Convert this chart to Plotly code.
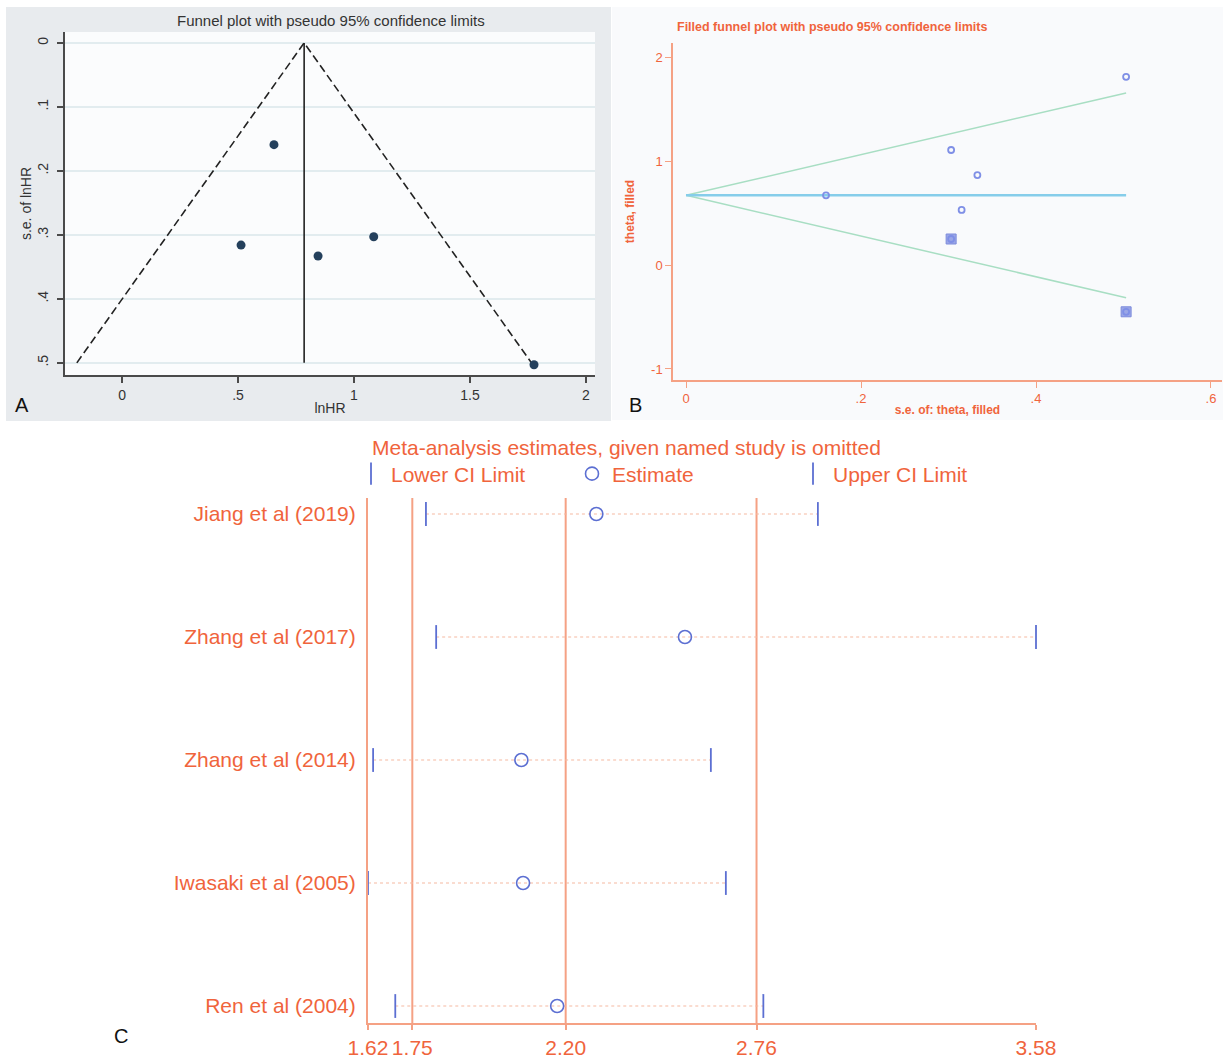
import plotly.graph_objects as go

W, H = 1223, 1059

# ---------------- Panel A data ----------------
a_lnhr = [0.655, 0.513, 0.845, 1.085, 1.776]
a_se = [0.159, 0.316, 0.333, 0.303, 0.503]
a_funnel_x = [-0.195, 0.785, 1.765]
a_funnel_se = [0.5, 0.0, 0.5]
a_pooled = [0.785, 0.785]
a_pooled_se = [0.0, 0.5]
a_xticks = [0, 0.5, 1, 1.5, 2]
a_xticktext = ["0", ".5", "1", "1.5", "2"]
a_yticks = [0, 0.1, 0.2, 0.3, 0.4, 0.5]
a_yticktext = ["0", ".1", ".2", ".3", ".4", ".5"]

# ---------------- Panel B data ----------------
b_se_obs = [0.16, 0.303, 0.333, 0.315, 0.503]
b_theta_obs = [0.67, 1.106, 0.865, 0.53, 1.81]
b_se_fill = [0.303, 0.503]
b_theta_fill = [0.25, -0.45]
b_upper_se = [0.0, 0.503]
b_upper_theta = [0.67, 1.655]
b_lower_se = [0.0, 0.503]
b_lower_theta = [0.67, -0.315]
b_mid_se = [0.0, 0.503]
b_mid_theta = [0.67, 0.67]
b_xticks = [0, 0.2, 0.4, 0.6]
b_xticktext = ["0", ".2", ".4", ".6"]
b_yticks = [-1, 0, 1, 2]
b_yticktext = ["-1", "0", "1", "2"]

# ---------------- Panel C data ----------------
c_studies = ["Jiang et al (2019)", "Zhang et al (2017)", "Zhang et al (2014)",
             "Iwasaki et al (2005)", "Ren et al (2004)"]
c_lower = [1.79, 1.82, 1.635, 1.62, 1.70]
c_est = [2.29, 2.55, 2.07, 2.075, 2.175]
c_upper = [2.94, 3.58, 2.626, 2.67, 2.78]
c_reflines = [1.75, 2.20, 2.76]
c_xticks = [1.62, 1.75, 2.20, 2.76, 3.58]
c_xticktext = ["1.62", "1.75", "2.20", "2.76", "3.58"]

FONT = "Liberation Sans"
ORANGE = "#f0643c"
ORANGE_LINE = "#f5a184"
BLUE = "#5c6fd2"


def px(x):
    return x / W


def py(y):
    return 1 - y / H


fig = go.Figure()

# ---- Panel A traces ----
fig.add_trace(go.Scatter(x=a_funnel_x, y=a_funnel_se, mode="lines",
                         line=dict(color="#222222", width=1.6, dash="8px,4px"),
                         xaxis="x", yaxis="y", showlegend=False, hoverinfo="skip"))
fig.add_trace(go.Scatter(x=a_pooled, y=a_pooled_se, mode="lines",
                         line=dict(color="#222222", width=1.6),
                         xaxis="x", yaxis="y", showlegend=False, hoverinfo="skip"))
fig.add_trace(go.Scatter(x=a_lnhr, y=a_se, mode="markers",
                         marker=dict(color="#24405c", size=9),
                         xaxis="x", yaxis="y", showlegend=False))

# ---- Panel B traces ----
fig.add_trace(go.Scatter(x=b_upper_se, y=b_upper_theta, mode="lines",
                         line=dict(color="#a8dec3", width=1.5),
                         xaxis="x2", yaxis="y2", showlegend=False))
fig.add_trace(go.Scatter(x=b_lower_se, y=b_lower_theta, mode="lines",
                         line=dict(color="#a8dec3", width=1.5),
                         xaxis="x2", yaxis="y2", showlegend=False))
fig.add_trace(go.Scatter(x=b_mid_se, y=b_mid_theta, mode="lines",
                         line=dict(color="#86cdea", width=2.5),
                         xaxis="x2", yaxis="y2", showlegend=False))
fig.add_trace(go.Scatter(x=b_se_fill, y=b_theta_fill, mode="markers",
                         marker=dict(symbol="square", color="#9aa6e6", size=10,
                                     line=dict(color="#7d8bdc", width=1)),
                         xaxis="x2", yaxis="y2", showlegend=False))
fig.add_trace(go.Scatter(x=b_se_obs + b_se_fill, y=b_theta_obs + b_theta_fill, mode="markers",
                         marker=dict(symbol="circle-open", color="#7f8fe6", size=6,
                                     line=dict(width=1.8)),
                         xaxis="x2", yaxis="y2", showlegend=False))

# ---- Panel C traces ----
cx, cy = [], []
for s, lo, up in zip(c_studies, c_lower, c_upper):
    cx += [lo, up, None]
    cy += [s, s, None]
fig.add_trace(go.Scatter(x=cx, y=cy, mode="lines",
                         line=dict(color="#f6b9a2", width=1.2, dash="dot"),
                         xaxis="x3", yaxis="y3", showlegend=False, hoverinfo="skip"))
fig.add_trace(go.Scatter(x=c_lower, y=c_studies, mode="markers", name="Lower CI Limit",
                         marker=dict(symbol="line-ns", size=17, line=dict(color=BLUE, width=1.8)),
                         cliponaxis=False, xaxis="x3", yaxis="y3"))
fig.add_trace(go.Scatter(x=c_est, y=c_studies, mode="markers", name="Estimate",
                         marker=dict(symbol="circle-open", size=13, color=BLUE,
                                     line=dict(width=1.6)),
                         cliponaxis=False, xaxis="x3", yaxis="y3"))
fig.add_trace(go.Scatter(x=c_upper, y=c_studies, mode="markers", name="Upper CI Limit",
                         marker=dict(symbol="line-ns", size=17, line=dict(color=BLUE, width=1.8)),
                         cliponaxis=False, xaxis="x3", yaxis="y3"))

shapes = [
    # panel A grey background
    dict(type="rect", xref="paper", yref="paper", x0=px(6), x1=px(611), y0=py(421), y1=py(7),
         fillcolor="#e8ebee", line=dict(width=0), layer="below"),
    # panel A plot region
    dict(type="rect", xref="x domain", yref="y domain", x0=0, x1=1, y0=0, y1=1,
         fillcolor="#fbfcfd", line=dict(width=0), layer="below"),
    # panel B background
    dict(type="rect", xref="paper", yref="paper", x0=px(612), x1=px(1223), y0=py(420), y1=py(7),
         fillcolor="#f9fafc", line=dict(width=0), layer="below"),
]
for v in c_reflines:
    shapes.append(dict(type="line", xref="x3", yref="y3 domain", x0=v, x1=v, y0=0, y1=1,
                       line=dict(color=ORANGE_LINE, width=2), layer="below"))

annotations = [
    dict(text="Funnel plot with pseudo 95% confidence limits", x=px(331), y=py(20),
         xanchor="center", yanchor="middle",
         xref="paper", yref="paper", showarrow=False, font=dict(family=FONT, size=15, color="#333333")),
    dict(text="A", x=px(22), y=py(405), xanchor="center", yanchor="middle",
         xref="paper", yref="paper", showarrow=False,
         font=dict(family=FONT, size=20, color="#111111")),
    dict(text="<b>Filled funnel plot with pseudo 95% confidence limits</b>", x=px(675), y=py(27),
         xanchor="left", yanchor="middle", xref="paper", yref="paper", showarrow=False,
         font=dict(family=FONT, size=12.5, color=ORANGE)),
    dict(text="B", x=px(636), y=py(405), xanchor="center", yanchor="middle",
         xref="paper", yref="paper", showarrow=False,
         font=dict(family=FONT, size=20, color="#111111")),
    dict(text="Meta-analysis estimates, given named study is omitted", x=px(626), y=py(447),
         xanchor="center", yanchor="middle",
         xref="paper", yref="paper", showarrow=False, font=dict(family=FONT, size=21, color=ORANGE)),
    dict(text="C", x=px(121), y=py(1036), xanchor="center", yanchor="middle",
         xref="paper", yref="paper", showarrow=False,
         font=dict(family=FONT, size=20, color="#111111")),
]

fig.update_layout(
    width=W, height=H,
    margin=dict(l=0, r=0, t=0, b=0, autoexpand=False),
    paper_bgcolor="white",
    plot_bgcolor="rgba(0,0,0,0)",
    font=dict(family=FONT),
    shapes=shapes,
    annotations=annotations,
    xaxis=dict(domain=[px(65), px(595)], range=[-0.246, 2.039], anchor="y", automargin=False,
               showline=True, linecolor="#4a4a4a", linewidth=1.5, mirror=False,
               ticks="outside", ticklen=6, tickcolor="#4a4a4a", tickwidth=1.5,
               tickvals=a_xticks, ticktext=a_xticktext, showgrid=False, zeroline=False,
               tickfont=dict(size=14, color="#333333"),
               title=dict(text="lnHR", font=dict(size=14, color="#333333"), standoff=2)),
    yaxis=dict(domain=[py(375), py(32)], range=[0.519, -0.017], anchor="x", automargin=False,
               showline=True, linecolor="#4a4a4a", linewidth=1.5,
               ticks="outside", ticklen=6, tickcolor="#4a4a4a", tickwidth=1.5,
               tickvals=a_yticks, ticktext=a_yticktext, tickangle=-90,
               showgrid=True, gridcolor="#e2ecef", gridwidth=1.5, zeroline=False,
               ticklabelstandoff=4,
               tickfont=dict(size=14, color="#333333"),
               title=dict(text="s.e. of lnHR", font=dict(size=14, color="#333333"), standoff=0)),
    xaxis2=dict(domain=[px(673), px(1222)], range=[-0.0149, 0.6126], anchor="y2", automargin=False,
                showline=True, linecolor=ORANGE_LINE, linewidth=1.5,
                ticks="outside", ticklen=6, tickcolor=ORANGE_LINE,
                tickvals=b_xticks, ticktext=b_xticktext, showgrid=False, zeroline=False,
                tickfont=dict(size=13, color=ORANGE),
                title=dict(text="<b>s.e. of: theta, filled</b>", font=dict(size=12, color=ORANGE), standoff=0)),
    yaxis2=dict(domain=[py(380), py(43)], range=[-1.106, 2.135], anchor="x2", automargin=False,
                showline=True, linecolor=ORANGE_LINE, linewidth=1.5,
                ticks="outside", ticklen=6, tickcolor=ORANGE_LINE,
                tickvals=b_yticks, ticktext=b_yticktext, showgrid=False, zeroline=False,
                tickfont=dict(size=13, color=ORANGE),
                title=dict(text="<b>theta, filled</b>", font=dict(size=12, color=ORANGE), standoff=14)),
    xaxis3=dict(domain=[px(368), px(1036)], range=[1.62, 3.58], anchor="y3", automargin=False,
                showline=True, linecolor=ORANGE_LINE, linewidth=2,
                ticks="outside", ticklen=5, tickcolor=ORANGE_LINE, tickwidth=1.5,
                tickvals=c_xticks, ticktext=c_xticktext, showgrid=False, zeroline=False,
                tickangle=0, ticklabelstandoff=0,
                tickfont=dict(size=21, color=ORANGE)),
    yaxis3=dict(domain=[py(1023), py(498)], range=[-0.138, 4.13], anchor="x3", automargin=False,
                type="category", categoryorder="array", categoryarray=list(reversed(c_studies)),
                showline=True, linecolor=ORANGE_LINE, linewidth=2,
                ticks="", showgrid=False, zeroline=False, ticklabelstandoff=6,
                tickfont=dict(size=21, color=ORANGE)),
    legend=dict(orientation="h", x=px(351), y=py(474), xanchor="left", yanchor="middle",
                font=dict(size=21, color=ORANGE), bgcolor="rgba(0,0,0,0)",
                entrywidth=176, entrywidthmode="pixels", itemwidth=30),
)

fig.write_html("out.html", config={"displayModeBar": False},
               post_script="document.body.style.margin='0';")
